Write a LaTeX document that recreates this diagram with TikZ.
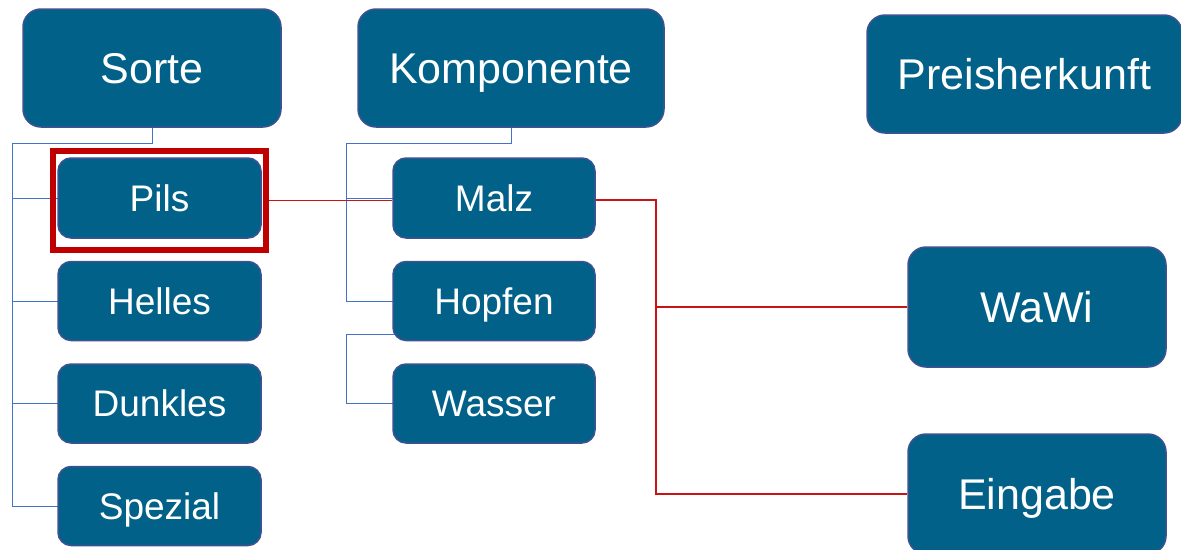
\documentclass[tikz,border=0pt]{standalone}
\usepackage{fontspec}
\setmainfont{Liberation Sans}
\usetikzlibrary{backgrounds}
\definecolor{boxfill}{RGB}{2,97,137}
\definecolor{boxline}{RGB}{62,82,145}
\definecolor{treeblue}{RGB}{68,114,196}
\definecolor{hired}{RGB}{192,0,0}
\definecolor{linered}{RGB}{200,20,20}
\tikzset{
  bigbox/.style={rectangle, rounded corners=18pt, fill=boxfill, draw=boxline, line width=1.5pt,
    text=white, inner sep=0pt, minimum width=258pt, minimum height=118pt,
    font=\fontsize{43}{50}\selectfont, text height=30.8pt, text depth=0pt},
  smallbox/.style={rectangle, rounded corners=13pt, fill=boxfill, draw=boxline, line width=1.5pt,
    text=white, inner sep=0pt, minimum width=203pt, minimum height=79pt,
    font=\fontsize{37}{43}\selectfont, text height=26.5pt, text depth=0pt},
  tree/.style={draw=treeblue, line width=1pt},
  redline/.style={draw=linered, line width=1.3pt},
  highlight/.style={rectangle, draw=hired, line width=6pt, inner sep=0pt, minimum width=213pt, minimum height=99pt}
}
\begin{document}
\begin{tikzpicture}[x=1pt,y=-1pt]
\useasboundingbox (0,0) rectangle (1181,549);
% boxes
\node[bigbox] (sorte) at (152,68) {Sorte};
\node[bigbox, minimum width=306pt] (komp) at (511,68) {Komponente};
\node[bigbox, minimum width=315pt] (preis) at (1024.5,74) {Preisherkunft};
\node[smallbox, minimum height=80pt] (pils) at (159.5,198) {Pils};
\node[smallbox] (helles) at (159.5,301) {Helles};
\node[smallbox] (dunkles) at (159.5,403.5) {Dunkles};
\node[smallbox] (spezial) at (159.5,506) {Spezial};
\node[smallbox, minimum width=202pt, minimum height=80pt] (malz) at (494,198) {Malz};
\node[smallbox, minimum width=202pt] (hopfen) at (494,301) {Hopfen};
\node[smallbox, minimum width=202pt] (wasser) at (494,403.5) {Wasser};
\node[bigbox, minimum height=120pt] (wawi) at (1037,307) {WaWi};
\node[bigbox, minimum height=120pt] (eingabe) at (1037,494) {Eingabe};
\node[highlight] (hl) at (159.5,200.5) {};
% junction coordinates
\coordinate (sj) at (12,143);
\coordinate (kj) at (346,143);
\coordinate (h1) at (397,305);
\coordinate (h2) at (346,334);
\coordinate (rj) at (656,200);
\begin{scope}[on background layer]
\fill[white] (0,0) rectangle (1181,549);
\draw[tree] (sorte.south) |- (sj);
\draw[tree] (sj) |- ([xshift=4pt]pils.west);
\draw[tree] (sj) |- ([xshift=4pt]helles.west);
\draw[tree] (sj) |- ([xshift=4pt]dunkles.west);
\draw[tree] (sj) |- ([xshift=4pt]spezial.west);
\draw[tree] (komp.south) |- (kj);
\draw[tree] (kj) |- ([xshift=4pt]malz.west);
\draw[tree] (kj) |- ([xshift=4pt]hopfen.west);
\draw[tree] (h1) |- (h2) |- ([xshift=4pt]wasser.west);
\draw[redline] (hl.east) -- (malz.west |- hl.east);
\draw[redline] (malz.east |- rj) -- (rj) |- (wawi.west);
\draw[redline] (rj) |- (eingabe.west);
\end{scope}
\end{tikzpicture}
\end{document}
